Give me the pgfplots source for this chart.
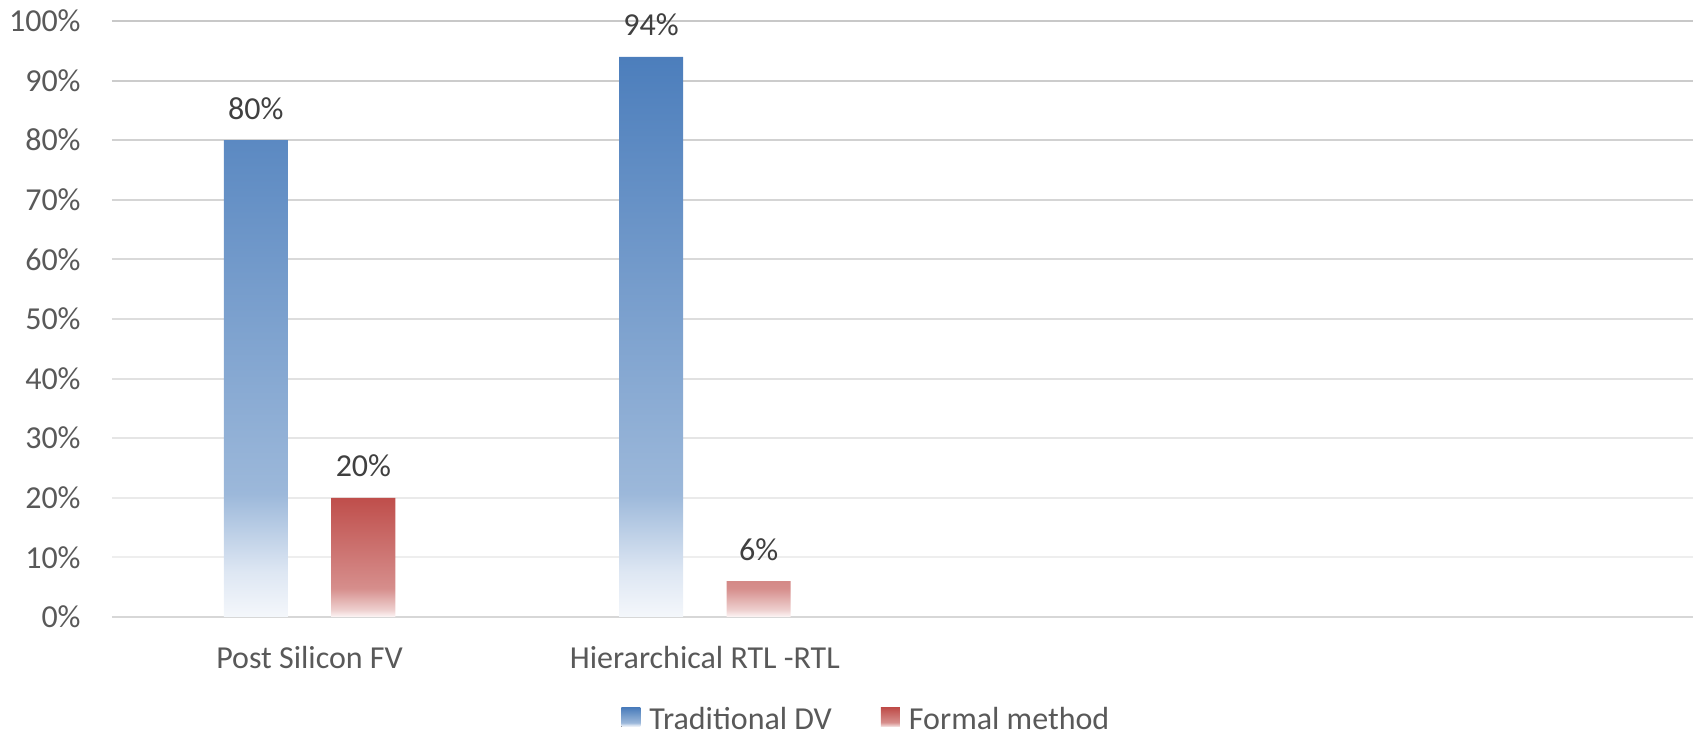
\documentclass[border=0pt]{standalone}
\usepackage{pgfplots}
\pgfplotsset{compat=1.18}
\usepackage{fontspec}
\setmainfont{Carlito}
\definecolor{ticktext}{RGB}{89,89,89}
\definecolor{labeltext}{RGB}{64,64,64}
\definecolor{bb0}{RGB}{244,247,251}
\definecolor{bb1}{RGB}{222,231,243}
\definecolor{bb2}{RGB}{156,184,218}
\definecolor{bb3}{RGB}{76,126,188}
\definecolor{rr0}{RGB}{253,246,246}
\definecolor{rr1}{RGB}{238,208,207}
\definecolor{rr2}{RGB}{214,142,140}
\definecolor{rr3}{RGB}{191,78,75}
\pgfdeclareverticalshading{bluebar}{100bp}{color(0bp)=(bb0); color(25bp)=(bb0); color(29bp)=(bb1); color(36bp)=(bb2); color(75bp)=(bb3); color(100bp)=(bb3)}
\pgfdeclareverticalshading{redbar}{100bp}{color(0bp)=(rr0); color(25bp)=(rr0); color(28bp)=(rr1); color(37bp)=(rr2); color(75bp)=(rr3); color(100bp)=(rr3)}
\newcommand{\chartfont}{\fontsize{16}{19}\selectfont}
\begin{document}
\begin{tikzpicture}
\useasboundingbox (-56pt,-58.5pt) rectangle (791pt,308.5pt);
\begin{axis}[
  at={(0pt,0pt)}, anchor=south west,
  scale only axis, width=790.5pt, height=298pt,
  xmin=-0.5, xmax=3.5, ymin=0, ymax=100,
  axis line style={draw=none},
  tick style={draw=none},
  ytick={0,10,...,100},
  yticklabel={\pgfmathprintnumber{\tick}\%},
  /pgf/number format/assume math mode=true,
  yticklabel style={anchor=east, inner sep=0pt, xshift=-15.5pt, font=\chartfont, text=ticktext},
  xtick={0,1},
  xticklabels={Post Silicon FV, Hierarchical RTL -RTL},
  xticklabel style={anchor=base, inner sep=0pt, yshift=-26pt, font=\chartfont, text=ticktext},
  nodes near coords={\pgfmathprintnumber{\pgfplotspointmeta}\%},
  every node near coord/.append style={anchor=base, inner sep=0pt, yshift=10.5pt, font=\chartfont, text=labeltext},
  legend columns=2,
  legend style={at={(0.322,-0.172)}, anchor=west, draw=none, fill=none, inner sep=0pt,
    font=\chartfont, text=ticktext, nodes={inner sep=0pt, outer sep=0pt},
    /tikz/every odd column/.append style={column sep=4.5pt},
    /tikz/every even column/.append style={column sep=24.5pt}},
  clip=false,
]
\draw[black!6.7, line width=1pt] (axis cs:-0.5,10) -- (axis cs:3.5,10);
\draw[black!8.3, line width=1pt] (axis cs:-0.5,20) -- (axis cs:3.5,20);
\draw[black!10, line width=1pt] (axis cs:-0.5,30) -- (axis cs:3.5,30);
\draw[black!11.6, line width=1pt] (axis cs:-0.5,40) -- (axis cs:3.5,40);
\draw[black!13.3, line width=1pt] (axis cs:-0.5,50) -- (axis cs:3.5,50);
\draw[black!14.9, line width=1pt] (axis cs:-0.5,60) -- (axis cs:3.5,60);
\draw[black!16.6, line width=1pt] (axis cs:-0.5,70) -- (axis cs:3.5,70);
\draw[black!18.2, line width=1pt] (axis cs:-0.5,80) -- (axis cs:3.5,80);
\draw[black!19.9, line width=1pt] (axis cs:-0.5,90) -- (axis cs:3.5,90);
\draw[black!21.5, line width=1pt] (axis cs:-0.5,100) -- (axis cs:3.5,100);
\draw[black!15.5, line width=1pt] (axis cs:-0.5,0) -- (axis cs:3.5,0);
\addplot[ybar, bar width=0.162, bar shift=-0.136, draw=none, shading=bluebar,
  every node near coord/.append style={xshift=-26.9pt},
  legend image code/.code={\fill[shading=bluebar] (0pt,-3.7pt) rectangle (9.5pt,5.8pt);}]
  coordinates {(0,80) (1,94)};
\addlegendentry{Traditional DV}
\addplot[ybar, bar width=0.162, bar shift=0.136, draw=none, shading=redbar,
  every node near coord/.append style={xshift=26.9pt},
  legend image code/.code={\fill[shading=redbar] (0pt,-3.7pt) rectangle (9.5pt,5.8pt);}]
  coordinates {(0,20) (1,6)};
\addlegendentry{Formal method}
\end{axis}
\end{tikzpicture}
\end{document}
